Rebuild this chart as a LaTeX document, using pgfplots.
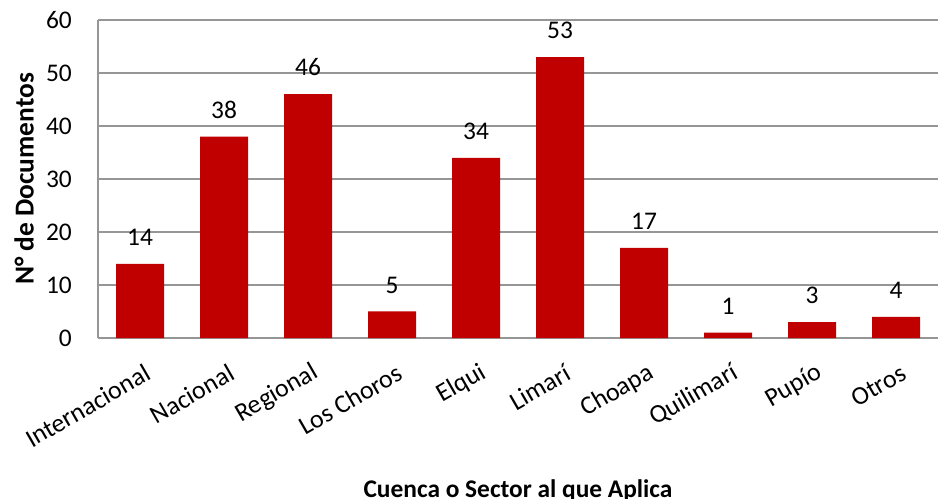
\documentclass[border=0pt]{standalone}
\usepackage{pgfplots}
\pgfplotsset{compat=1.18}
\usepackage{fontspec}
\setmainfont{Carlito}
\definecolor{barred}{RGB}{192,0,0}
\definecolor{gridgray}{RGB}{150,150,150}
\begin{document}
\begin{tikzpicture}
\path[use as bounding box] (0,0) rectangle (952bp,499bp);
\begin{axis}[
  at={(98bp,161bp)}, anchor=south west,
  scale only axis, width=840bp, height=318bp,
  xmin=-0.5, xmax=9.5, ymin=0, ymax=60,
  enlargelimits=false, clip=false,
  axis x line=bottom, axis y line=left,
  axis line style={-, draw=gridgray, line width=1.5bp},
  ymajorgrids, grid style={draw=gridgray, line width=1.5bp},
  ytick={0,10,20,30,40,50,60},
  xtick={0,...,9},
  xticklabels={Internacional,Nacional,Regional,Los Choros,Elqui,Limarí,Choapa,Quilimarí,Pupío,Otros},
  major tick length=0pt,
  /pgf/number format/assume math mode=true,
  yticklabel style={font=\fontsize{25.5}{30}\selectfont, inner sep=0pt, xshift=-26bp, anchor=east},
  xticklabel style={font=\fontsize{26}{30}\selectfont, inner sep=0pt, xshift=8bp, yshift=-33bp, rotate=30, anchor=east},
  ylabel={N° de Documentos},
  ylabel style={at={(axis description cs:-0.0881,0.5)}, anchor=center, rotate=0, font=\fontsize{27.5}{30}\selectfont\bfseries},
  xlabel={Cuenca o Sector al que Aplica},
  xlabel style={at={(axis description cs:0.5,-0.5)}, anchor=base, font=\fontsize{25.5}{30}\selectfont\bfseries},
  nodes near coords,
  every node near coord/.append style={font=\fontsize{25.5}{30}\selectfont, anchor=south, inner sep=0pt, yshift=18bp},
]
\addplot[ybar, bar width=48bp, fill=barred, draw=none] coordinates {
  (0,14) (1,38) (2,46) (3,5) (4,34) (5,53) (6,17) (7,1) (8,3) (9,4)
};
\end{axis}
\end{tikzpicture}
\end{document}
